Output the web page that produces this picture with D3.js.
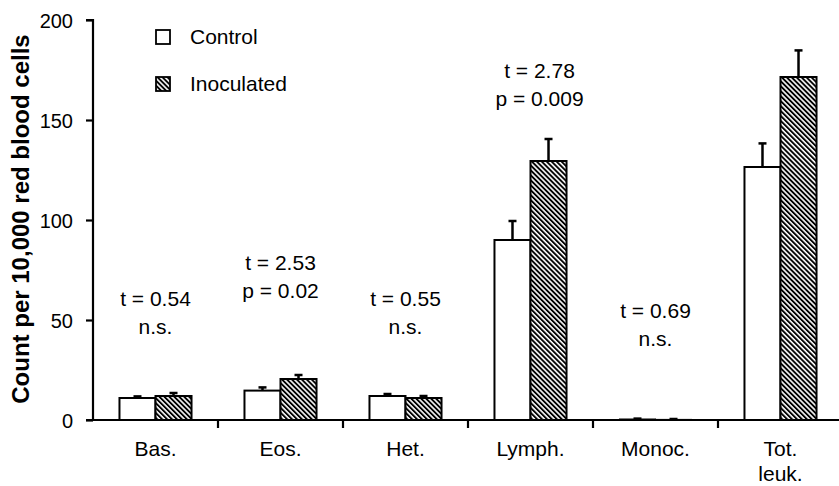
<!DOCTYPE html>
<html>
<head>
<meta charset="utf-8">
<script src="https://cdn.jsdelivr.net/npm/d3@7"></script>
<style>
body { margin: 0; background: #fff; }
text { font-family: "Liberation Sans", Arial, sans-serif; fill: #000; }
</style>
</head>
<body>
<div id="chart"></div>
<script>
width = 839
height = 486

// data
let categories = ["Bas.", "Eos.", "Het.", "Lymph.", "Monoc.", "Tot.\nleuk."]
let groups = ["Control", "Inoculated"]
let controlMeans = [11, 14.7, 12, 90, 0.5, 126.5]
let controlErr = [0.8, 1.6, 1, 9.5, 0.2, 11.8]
let inocMeans = [12, 20.5, 11, 129.5, 0.3, 171.5]
let inocErr = [1.5, 2, 1, 11, 0.2, 13.3]
let statLines = [
	["t = 0.54", "n.s."],
	["t = 2.53", "p = 0.02"],
	["t = 0.55", "n.s."],
	["t = 2.78", "p = 0.009"],
	["t = 0.69", "n.s."],
	null
]
let statY = [57, 75, 57, 171, 51, null]   // value level of first text line baseline
let yTicks = [0, 50, 100, 150, 200]

let margin = {left: 93, top: 20, right: -4, bottom: 66}

let svg = d3.select("#chart")
.append("svg")
.attr("width", width)
.attr("height", height)

let defs = svg.append("defs")
let pat = defs.append("pattern")
.attr("id", "hatch")
.attr("patternUnits", "userSpaceOnUse")
.attr("width", 3.5)
.attr("height", 3.5)
.attr("patternTransform", "rotate(-45)")
pat.append("rect").attr("width", 3.5).attr("height", 3.5).attr("fill", "#fff")
pat.append("rect").attr("width", 1.9).attr("height", 3.5).attr("fill", "#000")

let x = d3.scaleBand()
.domain(categories)
.range([margin.left, width - margin.right])
.paddingInner(0)
.paddingOuter(0)

let xi = d3.scaleBand()
.domain(groups)
.range([0, x.bandwidth()])
.paddingOuter(0.735)
.paddingInner(0)

let y = d3.scaleLinear()
.domain([0, 200])
.range([height - margin.bottom, margin.top])

let rows = categories.map((c, i) => ({
	cat: c,
	vals: [
		{g: "Control", v: controlMeans[i], e: controlErr[i]},
		{g: "Inoculated", v: inocMeans[i], e: inocErr[i]}
	]
}))

let cg = svg.append("g")
.selectAll("g")
.data(rows)
.join("g")
.attr("transform", d => "translate(" + x(d.cat) + ",0)")

// error bars (upper only)
cg.selectAll("g.err")
.data(d => d.vals)
.join("g")
.attr("class", "err")
.each(function(d) {
	let cx = xi(d.g) + xi.bandwidth() / 2
	let g = d3.select(this)
	g.append("line")
		.attr("x1", cx).attr("x2", cx)
		.attr("y1", y(d.v)).attr("y2", y(d.v + d.e))
		.attr("stroke", "#000").attr("stroke-width", 2.5)
	g.append("line")
		.attr("x1", cx - 4).attr("x2", cx + 4)
		.attr("y1", y(d.v + d.e)).attr("y2", y(d.v + d.e))
		.attr("stroke", "#000").attr("stroke-width", 2.5)
})

cg.selectAll("rect")
.data(d => d.vals)
.join("rect")
.attr("x", d => xi(d.g))
.attr("y", d => y(d.v))
.attr("width", xi.bandwidth())
.attr("height", d => y(0) - y(d.v))
.attr("fill", d => d.g == "Control" ? "#fff" : "url(#hatch)")
.attr("stroke", "#000")
.attr("stroke-width", d => d.v < 2 ? 1 : 2)

// stats text
statLines.forEach((lines, i) => {
	if(!lines) return
	let cx = x(categories[i]) + x.bandwidth() / 2 + (i == 3 ? 9 : 0)
	let t = svg.append("text")
		.attr("text-anchor", "middle")
		.attr("font-size", 21)
		.attr("y", y(statY[i]))
	lines.forEach((l, j) => {
		t.append("tspan")
			.attr("x", cx)
			.attr("dy", j == 0 ? 0 : 28)
			.text(l)
	})
})

// axes
let yAxis = svg.append("g")
.attr("transform", "translate(" + margin.left + ",0)")
.call(d3.axisLeft(y).tickValues(yTicks).tickSize(7).tickPadding(13))
yAxis.select(".domain").attr("stroke-width", 2.2).attr("d", "M-7," + y(200) + "H0V" + y(0) + "H-7")
yAxis.selectAll(".tick line").attr("stroke-width", 2.2)
yAxis.selectAll(".tick text").attr("font-size", 20).attr("dy", "0.35em")

let xAxis = svg.append("g")
.attr("transform", "translate(0," + y(0) + ")")
xAxis.append("line")
.attr("x1", margin.left - 7).attr("x2", width)
.attr("stroke", "#000").attr("stroke-width", 2.2)
xAxis.selectAll("line.tk")
.data(categories.slice(1))
.join("line")
.attr("class", "tk")
.attr("x1", d => x(d)).attr("x2", d => x(d))
.attr("y1", 0).attr("y2", 8)
.attr("stroke", "#000").attr("stroke-width", 2.2)

xAxis.selectAll("text")
.data(categories)
.join("text")
.attr("text-anchor", "middle")
.attr("font-size", 21)
.attr("y", 36)
.each(function(d) {
	let parts = d.split("\n")
	let t = d3.select(this)
	parts.forEach((p, j) => {
		t.append("tspan")
			.attr("x", x(d) + x.bandwidth() / 2)
			.attr("dy", j == 0 ? 0 : 25)
			.text(p)
	})
})

// y title
svg.append("text")
.attr("transform", "translate(29," + ((y(0) + y(200)) / 2 - 1) + ") rotate(-90)")
.attr("text-anchor", "middle")
.attr("font-size", 24)
.attr("font-weight", "bold")
.text("Count per 10,000 red blood cells")

// legend
let legend = svg.append("g")
.selectAll("g")
.data(groups)
.join("g")
.attr("transform", (d, i) => "translate(156," + (30 + i * 47) + ")")
legend.append("rect")
.attr("width", 14)
.attr("height", 14)
.attr("fill", d => d == "Control" ? "#fff" : "url(#hatch)")
.attr("stroke", "#000")
.attr("stroke-width", 1.8)
legend.append("text")
.attr("x", 34)
.attr("y", 14)
.attr("font-size", 21)
.text(d => d)
</script>
</body>
</html>
